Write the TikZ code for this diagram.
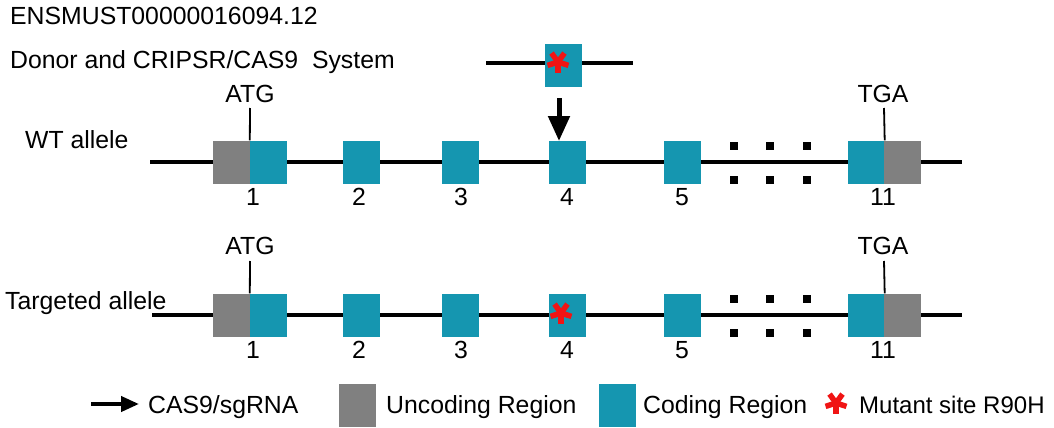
\documentclass[tikz,border=0pt]{standalone}
\usepackage{fontspec}
\setmainfont{Liberation Sans}
\usetikzlibrary{arrows.meta}
\definecolor{teal1}{RGB}{21,150,176}
\definecolor{gray1}{RGB}{128,128,128}
\definecolor{red1}{RGB}{240,20,20}
\tikzset{
  lbl/.style={font=\fontsize{24.8}{28}\selectfont, inner sep=0pt, anchor=base west},
  ctr/.style={font=\fontsize{24.8}{28}\selectfont, inner sep=0pt, anchor=base},
  exon/.style={fill=teal1, draw=none, minimum width=37pt, minimum height=43pt, inner sep=0pt},
  utr/.style={fill=gray1, draw=none, minimum width=37pt, minimum height=43pt, inner sep=0pt},
  dotbox/.style={fill=black, draw=none, minimum size=8pt, inner sep=0pt},
  backbone/.style={line width=3.4pt},
  tick/.style={line width=1.8pt},
  mutstar/.pic={
    \foreach \a in {90,162,234,306,18}
      \draw[red1, line width=5.5pt] (0,0) -- ++(\a:-11pt);
  }
}
\begin{document}
\begin{tikzpicture}[x=1pt,y=-1pt]
\useasboundingbox (0,0) rectangle (1054,428);
% titles
\node[lbl] (title) at (10,25) {ENSMUST00000016094.12};
\node[lbl] (donortxt) at (10,69) {Donor and CRIPSR/CAS9\ \ System};
\node[lbl] (wttxt) at (25,148) {WT allele};
\node[lbl] (tgtxt) at (5,309) {Targeted allele};

% donor
\coordinate (dL) at (486,63);
\coordinate (dR) at (633,63);
\draw[backbone] (dL) -- (dR);
\node[exon] (donor) at (563,65.5) {};
\pic at (558,62) {mutstar};

% CAS9 arrow
\coordinate (arS) at (559,98);
\coordinate (arE) at (559,141);
\draw[line width=5pt, -{Triangle[width=21pt,length=25pt]}] (arS) -- (arE);

% WT allele
\coordinate (wL) at (150,162);
\coordinate (wR) at (962,162);
\draw[backbone] (wL) -- (wR);
\node[utr]  (w1u) at (231.5,162) {};
\node[exon] (w1c) at (268.5,162) {};
\node[exon] (w2) at (361.5,162) {};
\node[exon] (w3) at (460.5,162) {};
\node[exon] (w4) at (567,162) {};
\node[exon] (w5) at (682,162) {};
\node[exon] (w11c) at (866,162) {};
\node[utr]  (w11u) at (902.5,162) {};
\foreach \x/\n in {734/a,770/b,807/c}{
  \node[dotbox] (wdt\n) at (\x,146) {};
  \node[dotbox] (wdb\n) at (\x,180) {};
}
\coordinate (wATG) at (250,108);
\coordinate (wTGA) at (884,108);
\draw[tick] (wATG) -- (w1c.north west);
\draw[tick] (wTGA) -- (w11c.north east);
\node[ctr] (wATGt) at (250,102) {ATG};
\node[ctr] (wTGAt) at (883,102) {TGA};
\foreach \x/\t/\n in {253/1/a,359/2/b,461/3/c,567/4/d,682/5/e,883/11/f}
  \node[ctr] (wn\n) at (\x,205) {\t};

% Targeted allele
\coordinate (tL) at (152,315);
\coordinate (tR) at (962,315);
\draw[backbone] (tL) -- (tR);
\node[utr]  (t1u) at (231.5,315) {};
\node[exon] (t1c) at (268.5,315) {};
\node[exon] (t2) at (361.5,315) {};
\node[exon] (t3) at (460.5,315) {};
\node[exon] (t4) at (567,315) {};
\node[exon] (t5) at (682,315) {};
\node[exon] (t11c) at (866,315) {};
\node[utr]  (t11u) at (902.5,315) {};
\pic at (561,313) {mutstar};
\foreach \x/\n in {734/a,770/b,807/c}{
  \node[dotbox] (tdt\n) at (\x,299) {};
  \node[dotbox] (tdb\n) at (\x,333) {};
}
\coordinate (tATG) at (250,261);
\coordinate (tTGA) at (884,261);
\draw[tick] (tATG) -- (t1c.north west);
\draw[tick] (tTGA) -- (t11c.north east);
\node[ctr] (tATGt) at (250,254) {ATG};
\node[ctr] (tTGAt) at (883,254) {TGA};
\foreach \x/\t/\n in {253/1/a,359/2/b,461/3/c,567/4/d,682/5/e,883/11/f}
  \node[ctr] (tn\n) at (\x,358) {\t};

% legend
\coordinate (lgA) at (91,404);
\coordinate (lgB) at (139,404);
\draw[line width=4pt, -{Triangle[width=15pt,length=18pt]}] (lgA) -- (lgB);
\node[lbl] (lg1) at (148,413) {CAS9/sgRNA};
\node[utr] (lgu) at (357,405.5) {};
\node[lbl] (lg2) at (386,413) {Uncoding Region};
\node[exon] (lgc) at (617,405.5) {};
\node[lbl] (lg3) at (643,413) {Coding Region};
\pic at (836,403) {mutstar};
\node[lbl, font=\fontsize{24}{28}\selectfont] (lg4) at (859,413) {Mutant site R90H};
\end{tikzpicture}
\end{document}
